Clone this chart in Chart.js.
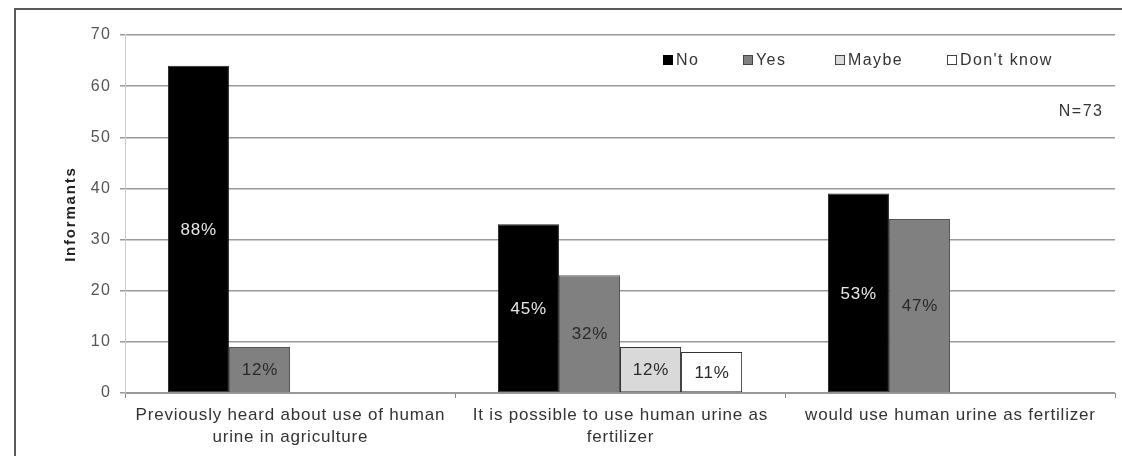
<!DOCTYPE html>
<html>
<head>
<meta charset="utf-8">
<script src="https://cdn.jsdelivr.net/npm/chart.js@4.4.1/dist/chart.umd.min.js"></script>
<style>
html,body{margin:0;padding:0;background:#fff;overflow:hidden;width:1122px;height:456px;}
#frame{position:absolute;left:14px;top:8px;width:1200px;height:600px;border:2px solid #5a5a5a;box-sizing:border-box;}
#wrap{position:absolute;left:0;top:0;width:1122px;height:456px;}
</style>
</head>
<body>
<div id="frame"></div>
<div id="wrap"><canvas id="c" width="1122" height="456"></canvas></div>
<script>
const categories = [
  ["Previously heard about use of human", "urine in agriculture"],
  ["It is possible to use human urine as", "fertilizer"],
  ["would use human urine as fertilizer"]
];
const seriesNames = ["No", "Yes", "Maybe", "Don't know"];
const noValues = [64, 33, 39];
const yesValues = [9, 23, 34];
const maybeValues = [null, 9, null];
const dontKnowValues = [null, 8, null];
const noPct = ["88%", "45%", "53%"];
const yesPct = ["12%", "32%", "47%"];
const maybePct = [null, "12%", null];
const dontKnowPct = [null, "11%", null];
const yTicks = [0, 10, 20, 30, 40, 50, 60, 70];
const yTitle = "Informants";
const sampleNote = "N=73";

const FONT = "'Liberation Sans', Arial, sans-serif";

const datasets = [
  {label: seriesNames[0], data: noValues, pct: noPct, backgroundColor: "#000000", borderColor: "#222", labelColor: "#e8e8e8"},
  {label: seriesNames[1], data: yesValues, pct: yesPct, backgroundColor: "#808080", borderColor: "#555", labelColor: "#2a2a2a"},
  {label: seriesNames[2], data: maybeValues, pct: maybePct, backgroundColor: "#d9d9d9", borderColor: "#333", labelColor: "#2a2a2a"},
  {label: seriesNames[3], data: dontKnowValues, pct: dontKnowPct, backgroundColor: "#ffffff", borderColor: "#333", labelColor: "#2a2a2a"}
].map(d => Object.assign(d, {borderWidth: 1, categoryPercentage: 0.74, barPercentage: 1.0, borderSkipped: false}));

function txt(ctx, s, x, y, font, spacing, align, color) {
  ctx.font = font;
  ctx.letterSpacing = spacing + "px";
  ctx.fillStyle = color;
  ctx.textBaseline = "middle";
  let w = ctx.measureText(s).width;
  let left;
  if (align === "center") left = x - (w - spacing) / 2;
  else if (align === "right") left = x - (w - spacing);
  else left = x;
  ctx.textAlign = "left";
  ctx.fillText(s, left, y);
}

const overlay = {
  id: "overlay",
  afterDraw(chart) {
    const ctx = chart.ctx;
    ctx.save();
    // y tick labels
    const ys = chart.scales.y;
    yTicks.forEach(v => {
      txt(ctx, String(v), 110, ys.getPixelForValue(v), "16px " + FONT, 1.5, "right", "#555");
    });
    // y title
    ctx.save();
    ctx.translate(71, 215);
    ctx.rotate(-Math.PI / 2);
    txt(ctx, yTitle, 0, 0, "bold 15px " + FONT, 1.8, "center", "#222");
    ctx.restore();
    // x labels
    const xs = chart.scales.x;
    categories.forEach((lines, i) => {
      const cx = xs.getPixelForValue(i);
      lines.forEach((ln, k) => {
        txt(ctx, ln, cx, 415 + k * 22, "17px " + FONT, 0.8, "center", "#333");
      });
    });
    // percentage labels
    chart.data.datasets.forEach((ds, i) => {
      const meta = chart.getDatasetMeta(i);
      meta.data.forEach((bar, j) => {
        if (ds.data[j] == null || !ds.pct[j]) return;
        const p = bar.getProps(["x", "y", "base"], true);
        txt(ctx, ds.pct[j], p.x, (p.y + p.base) / 2 + 1, "17px " + FONT, 0.8, "center", ds.labelColor);
      });
    });
    // legend
    const legendX = [663, 743, 835, 947];
    const ly = 60;
    chart.data.datasets.forEach((ds, i) => {
      const x = legendX[i];
      ctx.fillStyle = ds.backgroundColor;
      ctx.fillRect(x, ly - 5, 10, 10);
      ctx.strokeStyle = i === 0 ? "#000" : "#444";
      ctx.lineWidth = 1;
      ctx.strokeRect(x + 0.5, ly - 4.5, 9, 9);
      txt(ctx, ds.label, x + 13, ly + 1, "16px " + FONT, 1.4, "left", "#333");
    });
    // sample note
    txt(ctx, sampleNote, 1102, 112, "16px " + FONT, 1.5, "right", "#333");
    ctx.restore();
  }
};

new Chart(document.getElementById("c"), {
  type: "bar",
  data: {labels: categories.map(c => c.join(" ")), datasets: datasets},
  plugins: [overlay],
  options: {
    responsive: false,
    animation: false,
    layout: {padding: {left: 40, right: 7, top: 35, bottom: 0}},
    plugins: {legend: {display: false}, tooltip: {enabled: false}},
    scales: {
      x: {
        offset: true,
        grid: {display: true, drawOnChartArea: false, drawTicks: true, tickLength: 5, color: "#888", offset: true},
        border: {display: true, color: "#999", width: 1},
        ticks: {display: false},
        afterFit(scale) { scale.height = 63; }
      },
      y: {
        min: 0, max: 70,
        afterBuildTicks(scale) { scale.ticks = yTicks.map(v => ({value: v})); },
        grid: {color: "#999", lineWidth: 1.5, tickLength: 5},
        border: {display: true, color: "#ccc", width: 1},
        ticks: {display: false},
        afterFit(scale) { scale.width = 85; }
      }
    }
  }
});
</script>
</body>
</html>
